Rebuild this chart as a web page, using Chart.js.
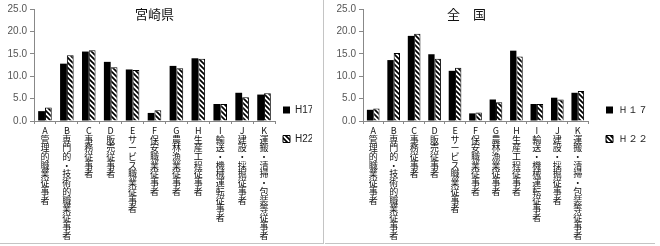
<!DOCTYPE html>
<html>
<head>
<meta charset="utf-8">
<script src="https://cdn.jsdelivr.net/npm/chart.js@4.4.1/dist/chart.umd.min.js"></script>
<style>
  body { margin: 0; background: #fff; }
  .panel { position: absolute; top: 0; height: 243px; }
  #p1 { left: 0; width: 323px; border-right: 1px solid #c4c4c4; border-bottom: 1px solid #c4c4c4; }
  #p2 { left: 325px; width: 330px; border-bottom: 1px solid #c4c4c4; }
  .title { position: absolute; top: 4px; font: 13px "Noto Sans CJK JP"; color: #111; white-space: pre; }
</style>
</head>
<body>
<div class="panel" id="p1"><canvas id="c1" width="323" height="243"></canvas><div class="title" style="left:135px">宮崎県</div></div>
<div class="panel" id="p2"><canvas id="c2" width="330" height="243"></canvas><div class="title" style="left:122px">全　国</div></div>
<script>
const categories = [
    "A管理的職業従事者", "B専門的・技術的職業従事者", "C事務従事者", "D販売従事者",
    "Eサービス職業従事者", "F保安職業従事者", "G農林漁業従事者", "H生産工程従事者",
    "I輸送・機械運転従事者", "J建設・採掘従事者", "K運搬・清掃・包装等従事者"
];
const yTicks = [0, 5, 10, 15, 20, 25];

const miyazakiH17 = [2.2, 12.8, 15.5, 13.2, 11.5, 1.8, 12.3, 14.0, 3.8, 6.3, 5.9];
const miyazakiH22 = [3.0, 14.7, 15.8, 12.0, 11.4, 2.4, 11.8, 13.9, 3.8, 5.3, 6.2];
const zenkokuH17 = [2.5, 13.6, 19.0, 14.9, 11.2, 1.7, 4.8, 15.7, 3.8, 5.2, 6.3];
const zenkokuH22 = [2.8, 15.2, 19.5, 13.9, 11.9, 1.9, 4.2, 14.4, 3.8, 4.8, 6.7];

// vertical labels: one char per line
const labels = categories.map(s => Array.from(s));

function hatch() {
    const c = document.createElement('canvas');
    c.width = 5; c.height = 5;
    const x = c.getContext('2d');
    x.fillStyle = '#fff';
    x.fillRect(0, 0, 5, 5);
    x.strokeStyle = '#000';
    x.lineWidth = 1.7;
    x.beginPath();
    x.moveTo(-1, -1); x.lineTo(6, 6);
    x.moveTo(-1, 4); x.lineTo(1, 6);
    x.moveTo(4, -1); x.lineTo(6, 1);
    x.stroke();
    return x.createPattern(c, 'repeat');
}

// pull the legend a bit closer to the plot
const legendShift = {
    id: 'legendShift',
    afterLayout(chart, args, opts) {
        chart.legend.left -= opts.dx;
        chart.legend.right -= opts.dx;
    }
};

function makeChart(id, h17, h22, names, yWidth, legendW, dx) {
    const ctx = document.getElementById(id).getContext('2d');
    return new Chart(ctx, {
        type: 'bar',
        data: {
            labels: labels,
            datasets: [
                { label: names[0], data: h17, backgroundColor: '#000', borderColor: '#000', borderWidth: 0 },
                { label: names[1], data: h22, backgroundColor: hatch(), borderColor: '#000', borderWidth: 1 }
            ]
        },
        plugins: [legendShift],
        options: {
            responsive: false, animation: false,
            layout: { padding: { top: 6, right: 0, left: 0, bottom: 0 } },
            datasets: { bar: { categoryPercentage: 0.62, barPercentage: 1.0 } },
            plugins: {
                tooltip: { enabled: false },
                legendShift: { dx: dx },
                legend: {
                    position: 'right',
                    maxWidth: legendW,
                    labels: { boxWidth: 7, boxHeight: 7, padding: 19, color: '#222', font: { size: 10, family: 'Liberation Sans' } }
                }
            },
            scales: {
                x: {
                    afterFit: s => { s.height = 122; },
                    grid: { offset: true, drawOnChartArea: false, tickLength: 3, color: '#888' },
                    border: { color: '#888' },
                    ticks: {
                        autoSkip: false, maxRotation: 0, minRotation: 0, padding: 2, color: '#111',
                        font: { size: 9, family: 'Noto Sans CJK JP', lineHeight: 0.97 }
                    }
                },
                y: {
                    min: 0, max: 25,
                    afterFit: s => { s.width = yWidth; },
                    afterBuildTicks: s => { s.ticks = yTicks.map(v => ({ value: v })); },
                    grid: { drawOnChartArea: false, tickLength: 4, color: '#888' },
                    border: { color: '#888' },
                    ticks: {
                        color: '#555', padding: 3,
                        font: { size: 10, family: 'Liberation Sans' },
                        callback: v => v.toFixed(1)
                    }
                }
            }
        }
    });
}

makeChart('c1', miyazakiH17, miyazakiH22, ['H17', 'H22'], 34, 48, 11);
makeChart('c2', zenkokuH17, zenkokuH22, ['Ｈ１７', 'Ｈ２２'], 38, 67, 1);
</script>
</body>
</html>
